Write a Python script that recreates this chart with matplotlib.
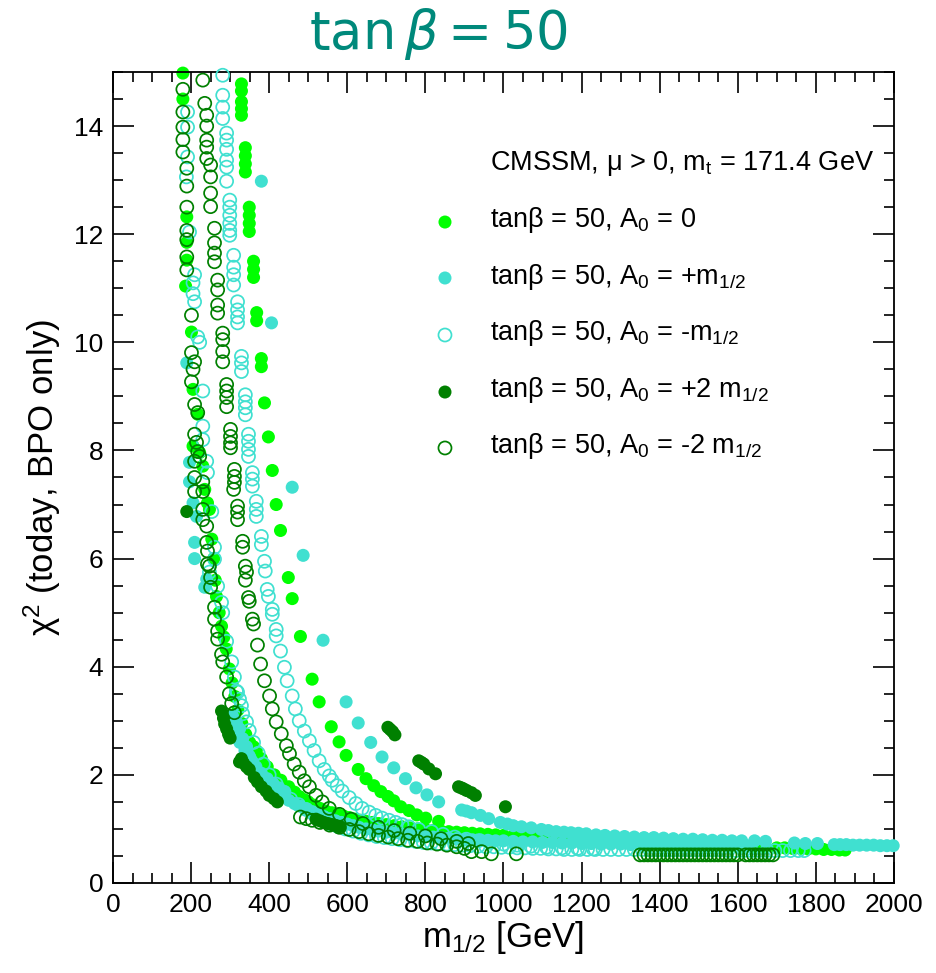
import matplotlib
matplotlib.use('Agg')
import matplotlib.pyplot as plt
from matplotlib import font_manager
from matplotlib.ticker import MultipleLocator


def has_font(name):
    try:
        font_manager.findfont(name, fallback_to_default=False)
        return True
    except ValueError:
        return False


narrow = 'Liberation Sans Narrow' if has_font('Liberation Sans Narrow') else 'Liberation Sans'

plt.rcParams['font.family'] = ['Liberation Sans', 'DejaVu Sans']
plt.rcParams['mathtext.fontset'] = 'custom'
plt.rcParams['mathtext.rm'] = 'Liberation Sans'
plt.rcParams['mathtext.it'] = 'Liberation Sans:italic'
plt.rcParams['mathtext.bf'] = 'Liberation Sans:bold'

LIME = '#00ff00'
TURQ = '#40e0d0'
DKGREEN = '#008000'

# (m_1/2 [GeV], chi^2), one list per visible branch

# A0 = 0  (lime, filled)
lime_upper = [(329, 14.78), (329, 14.65), (329, 14.45), (329, 14.32), (329, 14.2),
              (339, 13.6), (339, 13.45), (339, 13.3), (339, 13.15), (349, 12.5),
              (349, 12.35), (349, 12.2), (349, 12.05), (360, 11.5), (360, 11.35),
              (360, 11.2), (368, 10.55), (368, 10.4), (380, 9.7), (380, 9.55),
              (388, 8.88), (398, 8.25), (408, 7.63), (418, 7.0), (429, 6.52),
              (449, 5.65), (459, 5.26), (480, 4.56), (510, 3.77), (528, 3.35),
              (559, 2.89), (579, 2.61), (597, 2.36), (628, 2.1), (648, 1.93),
              (668, 1.8), (686, 1.69), (704, 1.6), (719, 1.52), (737, 1.41),
              (758, 1.34), (778, 1.26), (801, 1.2), (834, 1.14)]
lime_wall = [(179, 14.98), (179, 14.5), (189, 12.32), (189, 11.85), (189, 11.52),
             (186, 11.04), (201, 10.19), (205, 9.13), (217, 8.67), (205, 8.08),
             (222, 7.96), (230, 7.71), (235, 7.28), (242, 7.03), (247, 6.91),
             (253, 6.36), (258, 6.0), (262, 5.6), (265, 5.3), (272, 5.0),
             (278, 4.75), (284, 4.55), (290, 4.33), (298, 3.96), (305, 3.7),
             (312, 3.45), (320, 3.2), (330, 2.95), (340, 2.75), (350, 2.6),
             (360, 2.52), (367, 2.45), (380, 2.3), (395, 2.15), (413, 2.0),
             (430, 1.9), (450, 1.78), (465, 1.68), (477, 1.6)]
lime_band = [(490, 1.54), (500, 1.5), (515, 1.44), (530, 1.38), (545, 1.33),
             (560, 1.3), (575, 1.27), (590, 1.24), (605, 1.21), (620, 1.18),
             (635, 1.16), (648, 1.14), (665, 1.12), (680, 1.1), (700, 1.08),
             (720, 1.06), (740, 1.04), (760, 1.02), (780, 1.0), (800, 0.99),
             (820, 0.97), (840, 0.96), (860, 0.95), (880, 0.94), (900, 0.93),
             (920, 0.92), (940, 0.91), (960, 0.9), (980, 0.89), (1000, 0.88),
             (1025, 0.87), (1050, 0.86), (1075, 0.85), (1100, 0.84), (1125, 0.83),
             (1150, 0.82), (1175, 0.81), (1200, 0.8), (1225, 0.79), (1250, 0.78),
             (1280, 0.77), (1310, 0.76), (1340, 0.75), (1370, 0.74), (1400, 0.73),
             (1430, 0.72), (1460, 0.71), (1490, 0.7), (1520, 0.69), (1550, 0.69),
             (1580, 0.68), (1610, 0.67), (1640, 0.67), (1670, 0.66), (1700, 0.65),
             (1720, 0.65), (1740, 0.64), (1760, 0.64), (1780, 0.63), (1800, 0.63),
             (1820, 0.62), (1840, 0.62), (1860, 0.61), (1875, 0.61)]

# A0 = +m1/2  (turquoise, filled)
turq_upper = [(380, 12.98), (406, 10.36), (459, 7.32), (487, 6.06), (538, 4.49),
              (597, 3.35), (628, 2.96), (660, 2.6), (689, 2.33), (719, 2.13),
              (749, 1.93), (776, 1.76), (804, 1.63), (834, 1.5), (893, 1.35),
              (905, 1.33), (918, 1.3), (941, 1.25), (962, 1.19), (992, 1.12),
              (1010, 1.09), (1025, 1.06), (1046, 1.04), (1071, 1.02), (1097, 0.99),
              (1115, 0.97), (1135, 0.95), (1155, 0.94), (1173, 0.93), (1192, 0.92),
              (1212, 0.91), (1237, 0.89), (1260, 0.88), (1285, 0.87), (1310, 0.86),
              (1335, 0.85), (1360, 0.84), (1385, 0.84), (1410, 0.83), (1435, 0.82),
              (1460, 0.81), (1485, 0.81), (1510, 0.8), (1535, 0.79), (1560, 0.79),
              (1585, 0.78), (1610, 0.78), (1643, 0.78), (1671, 0.77), (1745, 0.74),
              (1773, 0.73), (1804, 0.73), (1847, 0.71), (1862, 0.71), (1878, 0.71),
              (1895, 0.7), (1912, 0.7), (1930, 0.7), (1948, 0.7), (1965, 0.69),
              (1982, 0.69), (1998, 0.69)]
turq_wall = [(189, 9.62), (196, 7.78), (196, 7.42), (205, 7.03), (214, 6.78),
             (209, 6.3), (209, 6.0), (240, 5.62), (235, 5.47), (300, 3.0),
             (306, 3.09), (312, 2.8), (316, 2.97), (324, 2.85), (325, 2.6),
             (332, 2.67), (338, 2.45), (342, 2.52), (349, 2.35), (352, 2.3),
             (357, 2.24), (365, 2.12), (366, 2.15), (375, 2.0), (380, 2.03),
             (385, 1.92), (395, 1.85), (395, 1.93), (408, 1.77), (410, 1.84),
             (420, 1.7), (425, 1.76), (440, 1.69)]
turq_band = [(435, 1.6), (450, 1.53), (465, 1.47), (480, 1.42), (495, 1.37),
             (510, 1.32), (525, 1.27), (540, 1.23), (555, 1.19), (570, 1.15),
             (585, 1.12), (600, 1.09), (615, 1.06), (630, 1.03), (648, 1.0),
             (665, 0.98), (680, 0.96), (700, 0.94), (720, 0.92), (740, 0.9),
             (760, 0.89), (780, 0.87), (800, 0.86), (820, 0.85), (840, 0.84),
             (860, 0.83), (880, 0.82), (900, 0.81), (920, 0.8), (940, 0.8),
             (960, 0.79), (980, 0.78), (1000, 0.78), (1025, 0.77), (1050, 0.76),
             (1075, 0.76), (1100, 0.75), (1125, 0.75), (1150, 0.74), (1175, 0.74),
             (1200, 0.73), (1225, 0.73), (1250, 0.72), (1275, 0.72), (1300, 0.72),
             (1325, 0.71), (1350, 0.71), (1375, 0.71), (1400, 0.7), (1425, 0.7),
             (1450, 0.7), (1475, 0.7), (1500, 0.69), (1525, 0.69), (1550, 0.69),
             (1575, 0.69), (1600, 0.68), (1625, 0.68)]

# A0 = -m1/2  (turquoise, open)
topen_col = [(281, 14.94), (281, 14.57), (281, 14.35), (281, 14.14), (291, 13.87),
             (291, 13.74), (291, 13.57), (291, 13.37), (291, 13.24), (291, 12.98),
             (299, 12.63), (299, 12.5), (299, 12.35), (299, 12.2), (299, 12.07),
             (299, 11.98), (309, 11.61), (309, 11.39), (309, 11.25), (309, 11.06),
             (319, 10.75), (319, 10.6), (319, 10.47), (319, 10.36), (329, 9.74),
             (329, 9.62), (329, 9.46), (339, 9.03), (339, 8.9), (339, 8.79),
             (339, 8.66), (347, 8.3), (347, 8.17), (347, 8.02), (347, 7.89),
             (357, 7.59), (357, 7.47), (357, 7.34), (367, 7.06), (367, 6.91),
             (367, 6.78), (380, 6.41), (380, 6.26), (388, 5.95), (390, 5.77),
             (395, 5.43), (398, 5.3), (408, 5.06), (408, 4.97), (418, 4.69),
             (418, 4.57), (429, 4.29), (439, 3.99), (446, 3.74), (459, 3.46),
             (467, 3.22), (477, 3.0), (490, 2.81), (503, 2.63), (515, 2.45),
             (528, 2.26), (541, 2.1), (554, 1.98), (561, 1.9), (574, 1.8),
             (587, 1.7), (605, 1.58), (622, 1.47), (638, 1.38), (656, 1.31),
             (673, 1.25), (689, 1.2), (707, 1.16), (724, 1.12), (740, 1.08),
             (758, 1.04), (783, 0.99), (816, 0.95), (845, 0.9), (875, 0.85),
             (905, 0.81), (935, 0.78), (965, 0.75), (1000, 0.72), (1035, 0.7),
             (1070, 0.68), (1110, 0.66), (1150, 0.65), (1190, 0.64), (1230, 0.63)]
topen_wall = [(191, 14.26), (191, 13.98), (191, 13.43), (188, 13.06), (196, 12.04),
              (209, 11.25), (205, 11.1), (205, 10.9), (209, 10.75), (217, 10.1),
              (222, 10.0), (230, 9.1), (230, 8.45), (230, 8.2), (240, 7.8),
              (242, 7.59), (253, 6.87), (260, 6.21), (260, 5.99), (247, 5.75),
              (268, 5.49), (278, 5.19), (281, 5.0), (291, 4.47), (304, 4.09),
              (311, 3.81), (319, 3.53), (316, 3.55), (324, 3.4), (329, 3.28),
              (332, 3.13), (342, 2.98), (349, 2.82)]
topen_band = [(360, 2.6), (372, 2.4), (385, 2.2), (400, 2.0), (418, 1.83),
              (436, 1.68), (455, 1.55), (475, 1.45), (495, 1.36), (515, 1.27),
              (535, 1.16), (555, 1.1), (575, 1.05), (595, 1.0), (615, 0.96),
              (635, 0.92), (655, 0.89), (675, 0.86), (695, 0.84), (715, 0.82),
              (735, 0.8), (755, 0.78), (775, 0.77), (795, 0.75), (815, 0.74),
              (835, 0.73), (855, 0.72), (875, 0.71), (895, 0.7), (915, 0.69),
              (935, 0.68), (955, 0.67), (975, 0.67), (995, 0.66), (1015, 0.66),
              (1035, 0.65), (1055, 0.65), (1075, 0.64), (1095, 0.64), (1115, 0.63),
              (1135, 0.63), (1155, 0.62), (1175, 0.62), (1195, 0.62), (1215, 0.62),
              (1235, 0.62), (1255, 0.62), (1275, 0.62), (1295, 0.62), (1315, 0.62),
              (1335, 0.62), (1355, 0.62), (1375, 0.61), (1395, 0.61), (1415, 0.61),
              (1435, 0.61), (1455, 0.61), (1475, 0.61), (1495, 0.61), (1515, 0.61),
              (1535, 0.61), (1555, 0.61), (1575, 0.6), (1595, 0.6), (1615, 0.6),
              (1635, 0.6), (1655, 0.6), (1675, 0.6), (1695, 0.6), (1715, 0.6),
              (1735, 0.6), (1755, 0.6), (1770, 0.6)]

# A0 = +2 m1/2  (dark green, filled)
dk_filled = [(189, 6.87), (278, 3.18), (283, 3.05), (286, 2.94), (291, 2.85),
             (296, 2.75), (300, 2.68), (324, 2.24), (329, 2.3), (334, 2.22),
             (342, 2.15), (349, 2.1), (362, 1.95), (370, 1.87), (380, 1.78),
             (392, 1.7), (400, 1.62), (412, 1.56), (421, 1.5),
             (520, 1.18), (530, 1.15), (540, 1.12), (550, 1.1), (560, 1.08),
             (572, 1.06), (580, 1.04),
             (704, 2.88), (710, 2.84), (716, 2.8), (722, 2.74),
             (783, 2.26), (790, 2.23), (796, 2.2), (809, 2.11), (826, 2.02),
             (885, 1.78), (892, 1.76), (898, 1.74), (906, 1.71), (918, 1.67),
             (928, 1.62), (1005, 1.41)]

# A0 = -2 m1/2  (dark green, open)
dk_col1 = [(179, 14.68), (179, 14.26), (179, 13.98), (179, 13.75), (179, 13.52),
           (189, 13.22), (189, 12.89), (189, 12.5), (189, 12.07), (189, 11.9),
           (189, 11.58), (189, 11.34), (201, 10.5), (201, 9.81), (209, 9.64),
           (205, 9.5), (201, 9.27), (209, 8.85), (217, 8.7), (209, 8.3),
           (214, 8.15), (217, 7.98), (222, 7.89), (209, 7.8), (209, 7.5),
           (230, 7.42), (209, 7.24), (230, 7.24), (230, 6.91), (230, 6.72),
           (240, 6.6), (240, 6.3), (242, 6.14), (247, 5.86), (242, 5.9),
           (250, 5.65), (250, 5.47), (260, 5.1), (260, 4.88), (268, 4.66),
           (268, 4.51), (278, 4.23), (281, 4.09), (291, 3.81), (298, 3.5),
           (304, 3.32), (311, 3.15)]
dk_col2 = [(230, 14.85), (235, 14.42), (240, 14.2), (240, 14.0), (240, 13.74),
           (240, 13.61), (240, 13.4), (250, 13.28), (250, 13.06), (250, 12.76),
           (250, 12.51), (260, 12.11), (260, 11.84), (260, 11.65), (260, 11.49),
           (268, 11.15), (268, 10.97), (268, 10.69), (268, 10.54), (281, 10.17),
           (281, 10.05), (281, 9.83), (281, 9.64), (291, 9.22), (291, 9.1),
           (291, 8.98), (291, 8.81), (301, 8.39), (301, 8.26), (301, 8.14),
           (301, 8.05), (311, 7.65), (311, 7.52), (311, 7.41), (309, 7.28),
           (319, 6.97), (319, 6.86), (319, 6.72), (332, 6.32), (332, 6.21),
           (339, 5.86), (342, 5.75), (339, 5.6), (347, 5.28), (349, 5.21),
           (357, 4.88), (360, 4.79), (370, 4.4), (378, 4.05), (388, 3.74),
           (401, 3.46), (408, 3.22), (418, 2.98), (431, 2.76), (444, 2.54),
           (452, 2.39), (464, 2.2), (477, 2.05), (490, 1.89), (503, 1.78),
           (520, 1.62), (536, 1.5), (554, 1.38), (580, 1.27), (610, 1.18),
           (640, 1.1), (680, 1.03), (720, 0.97), (760, 0.92), (800, 0.87),
           (840, 0.82), (880, 0.77), (910, 0.73)]
dk_band = [(480, 1.22), (495, 1.19), (510, 1.16), (530, 1.12), (555, 1.07),
           (580, 1.03), (605, 0.99), (630, 0.95), (655, 0.91), (680, 0.88),
           (705, 0.85), (730, 0.82), (755, 0.79), (780, 0.77), (805, 0.74),
           (830, 0.72), (855, 0.7), (880, 0.67), (900, 0.64), (918, 0.58),
           (944, 0.58), (969, 0.54), (1033, 0.54)]
dk_far = [(1350, 0.52), (1360, 0.52), (1370, 0.52), (1380, 0.52), (1390, 0.52),
          (1400, 0.52), (1410, 0.52), (1420, 0.52), (1430, 0.52), (1440, 0.52),
          (1450, 0.52), (1460, 0.52), (1470, 0.52), (1480, 0.52), (1490, 0.52),
          (1500, 0.52), (1510, 0.52), (1520, 0.52), (1530, 0.52), (1540, 0.52),
          (1550, 0.52), (1560, 0.52), (1570, 0.52), (1580, 0.52), (1590, 0.52),
          (1600, 0.52), (1620, 0.52), (1630, 0.52), (1640, 0.52), (1650, 0.52),
          (1660, 0.52), (1670, 0.52), (1680, 0.52), (1690, 0.52)]

labels = ['tanβ = 50, A$_\\mathrm{0}$ = 0',
          'tanβ = 50, A$_\\mathrm{0}$ = +m$_\\mathrm{1/2}$',
          'tanβ = 50, A$_\\mathrm{0}$ = -m$_\\mathrm{1/2}$',
          'tanβ = 50, A$_\\mathrm{0}$ = +2 m$_\\mathrm{1/2}$',
          'tanβ = 50, A$_\\mathrm{0}$ = -2 m$_\\mathrm{1/2}$']

series = [
    (lime_upper + lime_wall + lime_band, LIME, True),
    (turq_upper + turq_wall + turq_band, TURQ, True),
    (topen_col + topen_wall + topen_band, TURQ, False),
    (dk_filled, DKGREEN, True),
    (dk_col1 + dk_col2 + dk_band + dk_far, DKGREEN, False),
]

fig = plt.figure(figsize=(9.36, 9.73), dpi=100)
ax = fig.add_axes([0.1207, 0.0925, 0.8344, 0.8335])

S = 88
LW = 1.25
for i, (pts, col, filled) in enumerate(series):
    xs = [p[0] for p in pts]
    ys = [p[1] for p in pts]
    if filled:
        ax.scatter(xs, ys, s=S, c=col, edgecolors='none', clip_on=False,
                   zorder=2 + i)
    else:
        ax.scatter(xs, ys, s=S, facecolors='none', edgecolors=col,
                   linewidths=LW, clip_on=False, zorder=2 + i)

ax.set_xlim(0, 2000)
ax.set_ylim(0, 15)
ax.xaxis.set_major_locator(MultipleLocator(200))
ax.xaxis.set_minor_locator(MultipleLocator(50))
ax.yaxis.set_major_locator(MultipleLocator(2))
ax.yaxis.set_minor_locator(MultipleLocator(0.5))
ax.tick_params(which='both', direction='in', top=True, right=True, width=1.2,
               labelsize=19, pad=7)
ax.tick_params(which='major', length=15)
ax.tick_params(which='minor', length=7.5)
for lab in ax.get_xticklabels() + ax.get_yticklabels():
    lab.set_fontfamily(narrow)
for sp in ax.spines.values():
    sp.set_linewidth(1.3)

ax.set_xlabel('m$_\\mathrm{1/2}$ [GeV]', fontsize=25, labelpad=2)
ax.set_ylabel('χ$^\\mathrm{2}$ (today, BPO only)', fontsize=25, labelpad=8)

# legend block
ax.text(0.4827, 0.8792, 'CMSSM, μ > 0, m$_\\mathrm{t}$ = 171.4 GeV',
        transform=ax.transAxes, fontsize=19.5, va='baseline')
row_text = [0.8089, 0.7386, 0.6695, 0.5993, 0.5302]
row_mark = [0.8150, 0.7460, 0.6757, 0.6054, 0.5364]
for (pts, col, filled), lab, ty, my in zip(series, labels, row_text, row_mark):
    if filled:
        ax.scatter([0.4251], [my], s=S, c=col, edgecolors='none',
                   transform=ax.transAxes, clip_on=False)
    else:
        ax.scatter([0.4251], [my], s=S, facecolors='none', edgecolors=col,
                   linewidths=LW, transform=ax.transAxes, clip_on=False)
    ax.text(0.4827, ty, lab, transform=ax.transAxes, fontsize=19.5,
            va='baseline')

fig.text(0.469, 0.965, r'$\tan\beta = 50$', color='#00897b', fontsize=38,
         ha='center', va='center', math_fontfamily='dejavusans')

fig.savefig('out.png', dpi=100)
